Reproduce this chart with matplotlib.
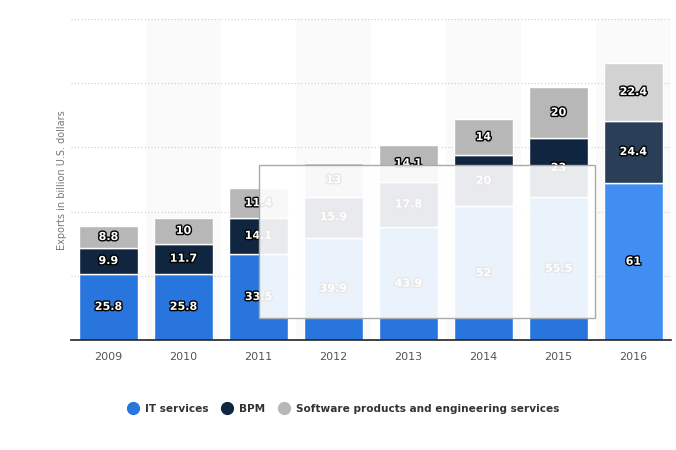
import matplotlib.pyplot as plt
import matplotlib.patheffects as pe
from matplotlib.patches import Rectangle
from matplotlib.lines import Line2D
import numpy as np

years = ["2009", "2010", "2011", "2012", "2013", "2014", "2015", "2016"]
it_services = [25.8, 25.8, 33.5, 39.9, 43.9, 52, 55.5, 61]
bpm = [9.9, 11.7, 14.1, 15.9, 17.8, 20, 23, 24.4]
software = [8.8, 10, 11.4, 13, 14.1, 14, 20, 22.4]

series_names = ["IT services", "BPM", "Software products and engineering services"]
colors = ["#2876dd", "#10253f", "#b7b7b7"]
hl_colors = ["#418ef2", "#2a3f57", "#d2d2d2"]  # 2016 column is hovered

fig = plt.figure(figsize=(6.76, 4.5), dpi=100)
ax = fig.add_axes([71/676, 1 - 340/450, 600/676, 321/450])

x = np.arange(len(years))
ax.set_xlim(-0.5, len(years) - 0.5)
ax.set_ylim(0, 125)

# alternating column bands
for i in x:
    if i % 2 == 1:
        ax.axvspan(i - 0.5, i + 0.5, color="#fafafa", zorder=0, lw=0)

ax.set_yticks([25, 50, 75, 100, 125])
ax.yaxis.grid(True, linestyle=(0, (1, 2)), color="#cccccc", lw=0.8, zorder=1)
ax.tick_params(axis="y", length=0, labelleft=False)
ax.tick_params(axis="x", length=0, labelsize=8, labelcolor="#555555", pad=9)

bottom = np.zeros(len(years))
for vals, c, hc in zip([it_services, bpm, software], colors, hl_colors):
    cols = [c] * (len(years) - 1) + [hc]
    ax.bar(x, vals, bottom=bottom, width=0.775, color=cols,
           edgecolor="white", linewidth=1, zorder=2)
    for xi, b, v in zip(x, bottom, vals):
        ax.text(xi, b + v / 2, f"{v:g}", ha="center", va="center",
                color="white", fontsize=8, fontweight="bold", zorder=3,
                path_effects=[pe.withStroke(linewidth=2, foreground="black")])
    bottom += np.array(vals)

ax.set_xticks(x)
ax.set_xticklabels(years)
for s in ["top", "right", "left"]:
    ax.spines[s].set_visible(False)
ax.spines["bottom"].set_color("#222222")
ax.spines["bottom"].set_linewidth(1.2)

fig.text(62/676, 1 - 180/450, "Exports in billion U.S. dollars", rotation=90,
         ha="center", va="center", fontsize=7, color="#777777")

handles = [Line2D([], [], marker="o", ls="", markersize=8.5, color=c) for c in colors]
leg = fig.legend(handles, series_names, loc="center", bbox_to_anchor=(341/676, 1 - 409/450),
                 ncol=3, frameon=False, fontsize=7.6, handletextpad=0.1, columnspacing=0.8)
for t in leg.get_texts():
    t.set_fontweight("bold")
    t.set_color("#333333")

# faded tooltip box left over the middle columns
fig.patches.append(Rectangle((259/676, 1 - 318/450), 336/676, 153/450,
                             transform=fig.transFigure, facecolor="white", alpha=0.91,
                             edgecolor="none", zorder=10))
fig.patches.append(Rectangle((259/676, 1 - 318/450), 336/676, 153/450,
                             transform=fig.transFigure, facecolor="none",
                             edgecolor="#aaaaaa", lw=1, zorder=11))

fig.savefig("out.png", dpi=100)
